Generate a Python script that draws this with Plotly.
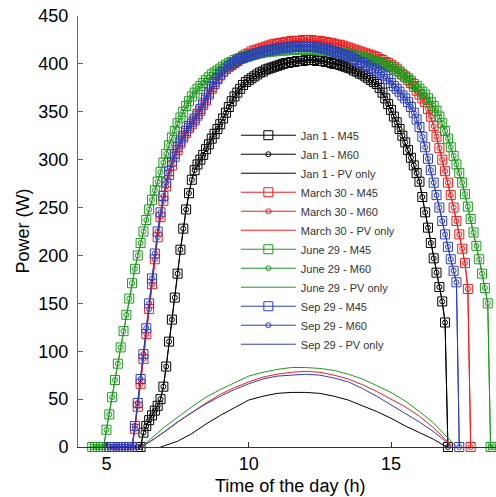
import plotly.graph_objects as go

# sampling interval of the simulated day (hours)
STEP = 0.1

# ---- MPPT output power (W); M45 and M60 give the same curve ----
jan_t0 = 6.1
jan_mppt = [0, 0,
            15, 22, 28, 33, 38, 43, 50,
            63, 84, 110, 133, 156, 181, 206, 228, 248, 265,
            279, 289, 295, 300, 305, 311, 316, 322, 327, 332,
            337, 343, 349, 355, 361, 366, 370, 374, 378, 381,
            383, 385, 387, 389, 391, 392, 394, 395, 396, 397,
            398, 399, 400, 401, 401, 402, 402, 403, 403, 403,
            404, 404, 404, 404, 403, 403, 403, 402, 402, 401,
            400, 400, 399, 398, 397, 396, 395, 393, 392, 390,
            389, 387, 385, 383, 381, 379, 375, 370, 364, 358,
            352, 345, 339, 332, 325, 318, 310, 302, 294, 286,
            277, 261, 245, 229, 213, 197, 182, 167, 152, 130,
            0]

mar_t0 = 5.1
mar_mppt = [0, 0, 0, 0, 0, 0, 0, 0, 0,
            19, 42, 66, 92, 118, 144, 170, 196, 219, 240,
            257, 272, 284, 294, 303, 310, 317, 323, 328, 333,
            337, 341, 346, 351, 357, 362, 368, 374, 379, 384,
            388, 392, 395, 398, 400, 402, 404, 406, 408, 410,
            411, 413, 414, 415, 416, 417, 418, 419, 420, 421,
            421, 422, 422, 423, 423, 424, 424, 424, 424, 425,
            425, 425, 425, 424, 424, 424, 423, 423, 422, 422,
            421, 420, 420, 419, 418, 417, 416, 415, 414, 413,
            412, 411, 410, 409, 408, 407, 405, 404, 402, 401,
            399, 397, 395, 392, 389, 386, 383, 380, 376, 372,
            368, 364, 360, 353, 345, 335, 324, 312, 300, 288,
            276, 263, 250, 236, 222, 207, 192, 165, 0]

jun_t0 = 4.5
jun_mppt = [0, 0, 0, 0, 0,
            18, 34, 52, 70, 87, 104, 121, 138, 155, 171,
            186, 200, 213, 225, 237, 248, 258, 268, 277, 287,
            297, 306, 315, 323, 330, 338, 344, 350, 356, 361,
            366, 370, 374, 377, 380, 383, 386, 389, 391, 393,
            395, 397, 399, 401, 402, 404, 405, 406, 407, 408,
            409, 410, 410, 411, 411, 412, 412, 413, 413, 413,
            414, 414, 414, 414, 415, 415, 415, 415, 415, 415,
            415, 415, 415, 415, 414, 414, 414, 414, 413, 413,
            413, 412, 412, 411, 411, 410, 409, 409, 408, 407,
            407, 406, 405, 404, 403, 402, 401, 400, 399, 398,
            397, 395, 393, 391, 389, 387, 385, 382, 379, 377,
            374, 371, 368, 364, 360, 356, 351, 345, 338, 330,
            322, 313, 304, 295, 286, 276, 264, 251, 238, 224,
            210, 196, 181, 166, 150, 0, 0]

sep_t0 = 5.1
sep_mppt = [0, 0, 0, 0, 0, 0, 0, 0, 0,
            22, 46, 71, 97, 124, 150, 176, 202, 225, 245,
            262, 276, 288, 298, 306, 313, 319, 325, 330, 335,
            339, 343, 348, 353, 359, 364, 370, 376, 381, 385,
            389, 392, 395, 397, 399, 401, 403, 405, 406, 407,
            408, 409, 410, 411, 412, 413, 414, 414, 415, 415,
            416, 416, 417, 417, 417, 418, 418, 418, 418, 418,
            418, 418, 418, 418, 417, 417, 416, 416, 415, 414,
            413, 412, 411, 410, 409, 408, 407, 405, 404, 402,
            401, 399, 398, 396, 395, 393, 391, 389, 387, 384,
            380, 377, 374, 371, 367, 364, 360, 355, 349, 342,
            334, 324, 313, 301, 289, 276, 263, 250, 236, 222,
            209, 196, 184, 172, 0]

# ---- PV only (W) ----
jan_pv_t = [6.9, 7.5, 8.0, 8.5, 9.0, 9.5, 10.0, 10.5, 11.0, 11.5, 12.0, 12.5,
            13.0, 13.5, 14.0, 14.5, 15.0, 15.5, 16.0, 16.5, 16.9, 17.0]
jan_pv = [0, 6, 14, 24, 33, 41, 49, 53, 56, 57, 57, 56,
          53, 49, 43, 37, 30, 22, 15, 8, 1, 0]

mar_pv_t = [6.2, 6.5, 7.0, 7.5, 8.0, 8.5, 9.0, 9.5, 10.0, 10.5, 11.0, 11.5, 12.0,
            12.5, 13.0, 13.5, 14.0, 14.5, 15.0, 15.5, 16.0, 16.5, 17.0, 17.2]
mar_pv = [0, 5, 15, 26, 36, 46, 55, 62, 68, 73, 76, 78, 79,
          78, 75, 71, 65, 58, 50, 42, 32, 20, 5, 0]

jun_pv_t = [6.2, 6.5, 7.0, 7.5, 8.0, 8.5, 9.0, 9.5, 10.0, 10.5, 11.0, 11.5, 12.0,
            12.5, 13.0, 13.5, 14.0, 14.5, 15.0, 15.5, 16.0, 16.5, 17.0, 17.3]
jun_pv = [0, 7, 20, 31, 42, 52, 60, 67, 74, 78, 81, 83, 83,
          82, 80, 76, 71, 64, 57, 48, 37, 25, 9, 0]

sep_pv_t = [6.2, 6.5, 7.0, 7.5, 8.0, 8.5, 9.0, 9.5, 10.0, 10.5, 11.0, 11.5, 12.0,
            12.5, 13.0, 13.5, 14.0, 14.5, 15.0, 15.5, 16.0, 16.5, 17.0, 17.1]
sep_pv = [0, 5, 15, 26, 36, 45, 53, 60, 66, 71, 74, 75, 76,
          75, 72, 68, 61, 53, 44, 35, 26, 16, 4, 0]

days = [
    ("Jan 1", jan_t0, jan_mppt, jan_pv_t, jan_pv, "#000000"),
    ("March 30", mar_t0, mar_mppt, mar_pv_t, mar_pv, "#f21c1c"),
    ("June 29", jun_t0, jun_mppt, jun_pv_t, jun_pv, "#1f9a1f"),
    ("Sep 29", sep_t0, sep_mppt, sep_pv_t, sep_pv, "#2c3fbd"),
]


def times(t0, vals):
    return [round(t0 + STEP * i, 3) for i in range(len(vals))]


fig = go.Figure()
for name, t0, mppt, pvt, pv, col in days:
    tt = times(t0, mppt)
    fig.add_trace(go.Scatter(
        x=tt, y=mppt, mode="lines+markers", name=f"{name} - M45",
        line=dict(color=col, width=1),
        marker=dict(symbol="square-open", size=9, color=col, line=dict(width=1, color=col)),
        cliponaxis=False))
    fig.add_trace(go.Scatter(
        x=tt, y=mppt, mode="lines+markers", name=f"{name} - M60",
        line=dict(color=col, width=1),
        marker=dict(symbol="circle-open", size=5, color=col, line=dict(width=1, color=col)),
        cliponaxis=False))
    fig.add_trace(go.Scatter(
        x=pvt, y=pv, mode="lines", name=f"{name} - PV only",
        line=dict(color=col, width=1), cliponaxis=False))

FONT = "Liberation Sans, Arial, Helvetica, sans-serif"
fig.update_layout(
    width=496, height=497,
    margin=dict(l=78, r=0, t=16, b=50),
    paper_bgcolor="white", plot_bgcolor="white",
    font=dict(family=FONT, size=18, color="#000"),
    showlegend=True,
    legend=dict(x=0.3776, y=0.757, xanchor="left", yanchor="top",
                bgcolor="rgba(0,0,0,0)", borderwidth=0,
                font=dict(family=FONT, size=11, color="#333"),
                itemwidth=55, tracegroupgap=0),
    xaxis=dict(range=[4, 18.69], tickmode="array", tickvals=[5, 10, 15],
               showgrid=False, zeroline=False, showline=True, linecolor="#333",
               linewidth=1, ticks="inside", ticklen=5, tickcolor="#333",
               tickfont=dict(size=18), ticklabelstandoff=0),
    yaxis=dict(range=[0, 450], tickmode="array",
               tickvals=[0, 50, 100, 150, 200, 250, 300, 350, 400, 450],
               showgrid=False, zeroline=False, showline=True, linecolor="#666",
               linewidth=1, ticks="inside", ticklen=5, tickcolor="#666",
               tickfont=dict(size=18), ticklabelstandoff=5),
    annotations=[
        dict(text="Time of the day (h)", xref="paper", yref="paper",
             x=(290 - 78) / 418, y=(447 - 486) / 431, xanchor="center", yanchor="middle",
             showarrow=False, font=dict(size=18, family=FONT)),
        dict(text="Power (W)", xref="paper", yref="paper",
             x=(22 - 78) / 418, y=0.5, xanchor="center", yanchor="middle",
             textangle=-90, showarrow=False, font=dict(size=18, family=FONT)),
    ],
)

fig.write_html("out.html")
